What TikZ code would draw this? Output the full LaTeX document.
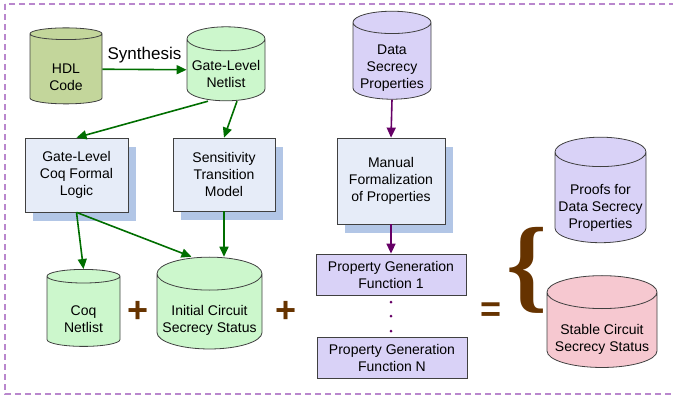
\documentclass[tikz,border=0pt]{standalone}
\usepackage{fontspec}
\setmainfont{Liberation Sans}
\newfontfamily\bracefont{Liberation Serif}
\usetikzlibrary{shapes.geometric,shadows,arrows.meta}

\definecolor{hdlgreen}{RGB}{195,214,155}
\definecolor{netgreen}{RGB}{204,247,204}
\definecolor{propviolet}{RGB}{217,210,247}
\definecolor{statpink}{RGB}{246,200,208}
\definecolor{boxblue}{RGB}{230,236,248}
\definecolor{shadowblue}{RGB}{178,198,230}
\definecolor{arrowgreen}{RGB}{0,110,0}
\definecolor{arrowpurple}{RGB}{102,0,102}
\definecolor{opbrown}{RGB}{102,51,0}
\definecolor{framepurple}{RGB}{185,135,205}

\tikzset{
    % text height lifts the box so the lines sit in the body, below the lid
    db/.style={cylinder, shape border rotate=90, aspect=0.35, draw=black!75, line width=0.8pt,
        align=center, inner sep=0pt, text height=#1, text depth=0pt, font=\fontsize{14}{17}\selectfont},
    db/.default=42pt,
    stage/.style={rectangle, draw=black!75, line width=0.8pt, fill=boxblue, align=center,
        inner sep=0pt, font=\fontsize{14}{17}\selectfont,
        general shadow={fill=shadowblue, draw=none, shadow xshift=8pt, shadow yshift=-9pt}},
    func/.style={rectangle, draw=black!75, line width=0.8pt, fill=propviolet, align=center,
        inner sep=0pt, minimum width=150pt, minimum height=41pt, font=\fontsize{14}{17}\selectfont},
    greenarrow/.style={draw=arrowgreen, line width=1.6pt, -{Triangle[length=10pt,width=9pt]}},
    purplearrow/.style={draw=arrowpurple, line width=1.6pt, -{Triangle[length=10pt,width=9pt]}},
    op/.style={text=opbrown, inner sep=0pt, font=\fontsize{36}{36}\selectfont\bfseries},
}

\begin{document}
\begin{tikzpicture}[x=1pt,y=-1pt]
    \useasboundingbox (0,0) rectangle (673,399);
    \draw[framepurple, line width=1.2pt, dash pattern=on 6pt off 4pt] (5,4) rectangle (690,394);

    % netlist side
    \node[db, fill=hdlgreen, minimum width=72pt, minimum height=76pt] (hdl) at (66,69) {HDL\\Code};
    \node[db=34pt, fill=netgreen, minimum width=78pt, minimum height=74pt] (gln) at (226,70) {Gate-Level\\Netlist};
    \node[stage, minimum width=103pt, minimum height=74pt] (coq) at (76.5,175) {Gate-Level\\Coq Formal\\Logic};
    \node[stage, minimum width=102pt, minimum height=73pt] (stm) at (224,174.5) {Sensitivity\\Transition\\Model};
    \node[db, fill=netgreen, minimum width=73pt, minimum height=77pt] (cnl) at (83.5,311.5) {Coq\\Netlist};
    \node[db, fill=netgreen, minimum width=105pt, minimum height=77pt] (icss) at (209.5,311.5) {Initial Circuit\\Secrecy Status};

    % property side
    \node[db=54pt, fill=propviolet, minimum width=78pt, minimum height=88pt] (dsp) at (392,61) {Data\\Secrecy\\Properties};
    \node[stage, minimum width=108pt, minimum height=86pt] (mfp) at (391,181) {Manual\\Formalization\\of Properties};
    \node[func] (pgf1) at (391,274.5) {Property Generation\\Function 1};
    \node[func] (pgfn) at (392,357.5) {Property Generation\\Function N};

    % results
    \node[db=61pt, fill=propviolet, minimum width=91pt, minimum height=99pt] (proofs) at (600.5,197.5) {Proofs for\\Data Secrecy\\Properties};
    \node[db, fill=statpink, minimum width=110pt, minimum height=86pt] (stable) at (602,330) {Stable Circuit\\Secrecy Status};

    \node[op] (plus1) at (138,312) {+};
    \node[op] (plus2) at (286,312) {+};
    \node[op] (equal) at (491,312) {=};
    \node[text=opbrown, inner sep=0pt, font=\fontsize{104}{104}\bracefont\bfseries] (brace) at (527,270) {\{};

    \draw[greenarrow] (hdl) -- node[above=2pt, font=\fontsize{17}{17}\selectfont, text=black] {Synthesis} (gln);
    \draw[greenarrow] ([xshift=-18pt]gln.south) -- (coq.north);
    \draw[greenarrow] ([xshift=11pt]gln.south) -- (stm.north);
    \draw[greenarrow] (coq.south) -- (cnl.north);
    \draw[greenarrow] (coq.south) -- ([xshift=-18pt]icss.north);
    \draw[greenarrow] (stm.south) -- (stm.south |- icss.north);
    \draw[purplearrow] (dsp.south) -- (mfp.north);
    \draw[purplearrow] (mfp.south) -- (pgf1.north);

    \fill[arrowpurple] (391,302) circle (1.5pt);
    \fill[arrowpurple] (391,316) circle (1.5pt);
    \fill[arrowpurple] (391,331) circle (1.5pt);
\end{tikzpicture}
\end{document}
